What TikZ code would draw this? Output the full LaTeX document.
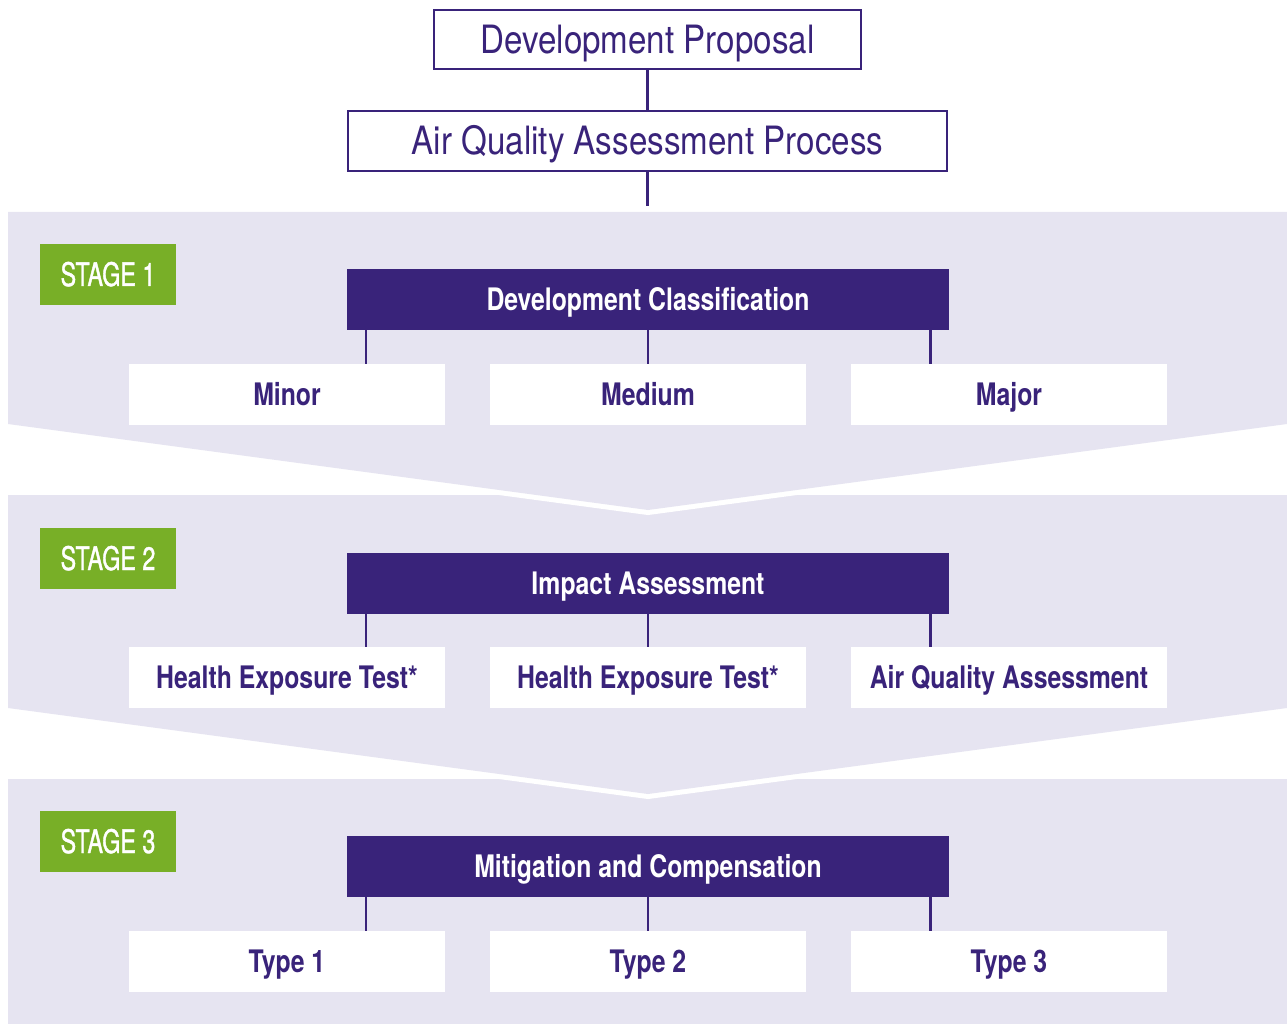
\documentclass[tikz,border=0pt]{standalone}
\usepackage{fontspec}
\setmainfont{TeX Gyre Heros}
\newfontfamily\lightcn[FakeStretch=0.85]{TeX Gyre Heros}
\newfontfamily\boldcn[FakeStretch=0.8]{TeX Gyre Heros}
\newfontfamily\stagecn[FakeStretch=0.72,FakeBold=1.2]{TeX Gyre Heros}
\definecolor{lav}{HTML}{E6E4F1}
\definecolor{dpurple}{HTML}{39237A}
\definecolor{sgreen}{HTML}{78AF27}
\tikzset{
  topbox/.style={draw=dpurple, line width=1.5pt, fill=white, text=dpurple, inner sep=0pt,
    minimum height=59pt, font=\lightcn\fontsize{39}{40}\selectfont, text height=28pt, text depth=0pt},
  barbox/.style={fill=dpurple, text=white, minimum width=602pt, minimum height=61pt, inner sep=0pt,
    font=\boldcn\bfseries\fontsize{31}{32}\selectfont, text height=22pt, text depth=0pt},
  optbox/.style={fill=white, text=dpurple, minimum width=316pt, minimum height=61pt, inner sep=0pt,
    font=\boldcn\bfseries\fontsize{31}{32}\selectfont, text height=22pt, text depth=0pt},
  stagebox/.style={fill=sgreen, text=white, minimum width=136pt, minimum height=61pt, inner sep=0pt,
    font=\stagecn\fontsize{32.4}{33}\selectfont, text height=23pt, text depth=0pt},
  conn/.style={draw=dpurple, line width=2.6pt},
  panel/.style={fill=lav},
  gap/.style={draw=white, line width=10pt, miter limit=20}
}
\begin{document}
\begin{tikzpicture}[x=1pt,y=-1pt]
\useasboundingbox (0,0) rectangle (1287,1024);
% panels
\fill[panel] (8,779) -- (1287,779) -- (1287,1024) -- (8,1024) -- cycle;
\draw[gap] (8,708) -- (648,794) -- (1287,708);
\fill[panel] (8,495) -- (1287,495) -- (1287,708) -- (648,794) -- (8,708) -- cycle;
\draw[gap] (8,424) -- (648,510) -- (1287,424);
\fill[panel] (8,212) -- (1287,212) -- (1287,424) -- (648,510) -- (8,424) -- cycle;

% top
\node[topbox, minimum width=427pt] (dp) at (647.5,39.5) {Development Proposal};
\node[topbox, minimum width=599pt, minimum height=60pt] (aq) at (647.5,141) {Air Quality Assessment Process};
\coordinate (aqend) at (647.5,206);
\draw[conn] (dp.south) -- (aq.north);
\draw[conn] (aq.south) -- (aqend);

% stage 1
\node[stagebox] (s1) at (108,274.5) {STAGE 1};
\node[barbox] (b1) at (648,299.5) {Development Classification};
\node[optbox] (o11) at (287,394.5) {Minor};
\node[optbox] (o12) at (648,394.5) {Medium};
\node[optbox] (o13) at (1009,394.5) {Major};

% stage 2
\node[stagebox] (s2) at (108,558.5) {STAGE 2};
\node[barbox] (b2) at (648,583.5) {Impact Assessment};
\node[optbox] (o21) at (287,677.5) {Health Exposure Test*};
\node[optbox] (o22) at (648,677.5) {Health Exposure Test*};
\node[optbox] (o23) at (1009,677.5) {Air Quality Assessment};

% stage 3
\node[stagebox] (s3) at (108,841.5) {STAGE 3};
\node[barbox] (b3) at (648,866.5) {Mitigation and Compensation};
\node[optbox] (o31) at (287,961.5) {Type 1};
\node[optbox] (o32) at (648,961.5) {Type 2};
\node[optbox] (o33) at (1009,961.5) {Type 3};

% connectors
\foreach \b/\l/\m/\r in {b1/o11/o12/o13, b2/o21/o22/o23, b3/o31/o32/o33}{
  \draw[conn] ([xshift=19pt]\b.south west) -- ([xshift=19pt]\b.south west |- \l.north);
  \draw[conn] (\b.south) -- (\m.north);
  \draw[conn] ([xshift=-19pt]\b.south east) -- ([xshift=-19pt]\b.south east |- \r.north);
}
\end{tikzpicture}
\end{document}
